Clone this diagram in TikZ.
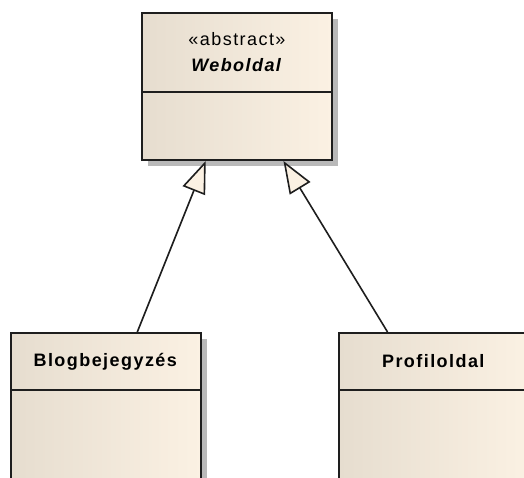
\documentclass[tikz,border=0pt]{standalone}
\usepackage{fontspec}
\setmainfont{Liberation Sans}[LetterSpace=8]
\usetikzlibrary{arrows.meta,calc,shadows}
\definecolor{classleft}{RGB}{230,221,207}
\definecolor{classright}{RGB}{251,241,227}
\definecolor{edgegray}{RGB}{30,30,30}
\definecolor{shadowgray}{RGB}{185,185,185}
\tikzset{
  classbox/.style={rectangle, draw=edgegray, line width=2pt, left color=classleft, right color=classright,
    minimum width=190pt, inner sep=0pt,
    general shadow={shadow xshift=6pt, shadow yshift=-6pt, fill=shadowgray, opacity=1}},
  classhead/.style={rectangle, draw=edgegray, line width=2pt, minimum width=190pt, inner sep=0pt,
    align=center, font=\fontsize{18}{26}\selectfont},
  inherit/.style={-{Triangle[length=32pt, width=24pt, fill=classright]}, line width=1.6pt, draw=edgegray}
}

\begin{document}
\begin{tikzpicture}[x=1pt, y=-1pt]
  \clip (0,0) rectangle (524,477);
  % abstract base class
  \node[classbox, minimum height=147pt] (weboldal) at (237,86.5) {};
  \node[classhead, minimum height=79pt, anchor=north] (weboldalhead) at (weboldal.north)
    {«abstract»\\\textbf{\textit{Weboldal}}};

  % subclasses
  \node[classbox, minimum height=190pt, anchor=north west] (blog) at (10,332) {};
  \node[classhead, minimum height=57pt, anchor=north] (bloghead) at (blog.north) {\textbf{Blogbejegyzés}};
  \node[classbox, minimum height=190pt, anchor=north west] (profil) at (338,332) {};
  \node[classhead, minimum height=57pt, anchor=north] (profilhead) at (profil.north) {\textbf{Profiloldal}};

  % generalizations
  \draw[inherit] ($(blog.north west)!0.663!(blog.north east)$) -- ($(weboldal.south west)!0.337!(weboldal.south east)$);
  \draw[inherit] ($(profil.north west)!0.258!(profil.north east)$) -- ($(weboldal.south west)!0.742!(weboldal.south east)$);
\end{tikzpicture}
\end{document}
